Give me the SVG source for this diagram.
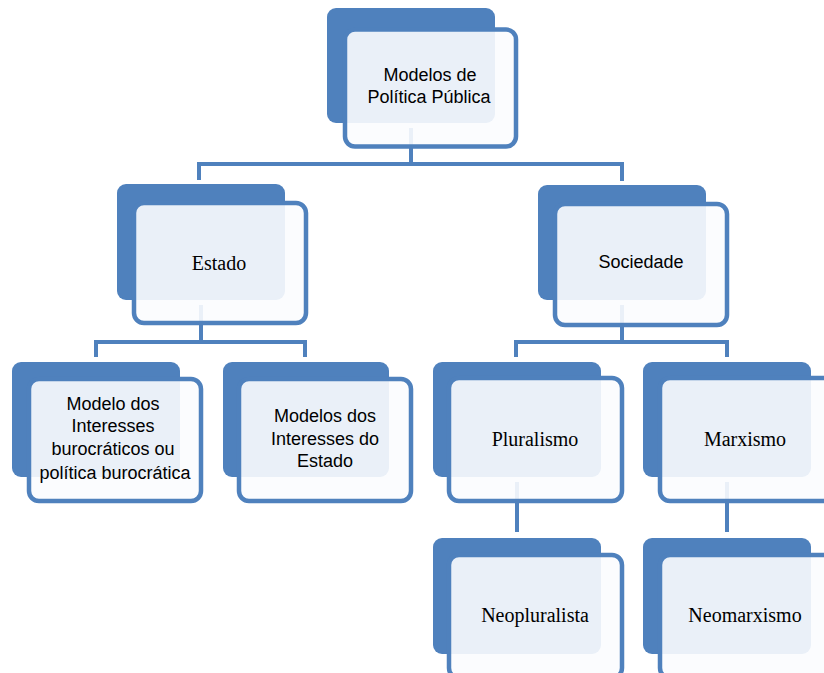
<svg xmlns="http://www.w3.org/2000/svg" width="824" height="673" viewBox="0 0 824 673">
<style>
.back{fill:#4F81BD}
.front{fill:#FBFCFE;fill-opacity:0.9;stroke:#4F81BD;stroke-width:4.5}
.conn{stroke:#4F81BD;stroke-width:4;fill:none;stroke-linejoin:miter}
.sans{font-family:"Liberation Sans",Arial,sans-serif;font-size:18px;fill:#000;text-anchor:middle}
.serif{font-family:"Liberation Serif","Times New Roman",serif;font-size:20px;fill:#000;text-anchor:middle}
</style>
<rect width="824" height="673" fill="#FFFFFF"/>
<g id="connectors">
<path class="conn" d="M411,128 V164 M199,180 V164 H622 V181"/>
<path class="conn" d="M201,305 V342 M96,357 V342 H305 V357"/>
<path class="conn" d="M622,305 V342 M516,357 V342 H727 V357"/>
<path class="conn" d="M517,482 V532 M727,482 V532"/>
</g>
<g id="n-top">
<rect class="back" x="327" y="8" width="168" height="115" rx="9"/>
<rect class="front" x="345" y="29.5" width="171" height="117" rx="10"/>
<text class="sans" x="430" y="81">Modelos de</text>
<text class="sans" x="429" y="103">Política Pública</text>
</g>
<g id="n-estado">
<rect class="back" x="117" y="184" width="168" height="116" rx="9"/>
<rect class="front" x="134" y="203" width="172" height="120" rx="10"/>
<text class="serif" x="219" y="270">Estado</text>
</g>
<g id="n-sociedade">
<rect class="back" x="538" y="185" width="168" height="115" rx="9"/>
<rect class="front" x="555" y="204" width="172" height="121" rx="10"/>
<text class="sans" x="641" y="268">Sociedade</text>
</g>
<g id="n-burocratico">
<rect class="back" x="12" y="362" width="168" height="115" rx="9"/>
<rect class="front" x="29" y="379" width="172" height="122" rx="10"/>
<text class="sans" x="113" y="410">Modelo dos</text>
<text class="sans" x="113" y="432">Interesses</text>
<text class="sans" x="113" y="455">burocráticos ou</text>
<text class="sans" x="115" y="479">política burocrática</text>
</g>
<g id="n-estado-interesses">
<rect class="back" x="223" y="362" width="166" height="115" rx="9"/>
<rect class="front" x="239" y="379" width="172" height="122" rx="10"/>
<text class="sans" x="325" y="422">Modelos dos</text>
<text class="sans" x="325" y="445">Interesses do</text>
<text class="sans" x="325" y="467">Estado</text>
</g>
<g id="n-pluralismo">
<rect class="back" x="433" y="362" width="168" height="115" rx="9"/>
<rect class="front" x="449" y="378" width="173" height="123" rx="10"/>
<text class="serif" x="535" y="446">Pluralismo</text>
</g>
<g id="n-marxismo">
<rect class="back" x="643" y="362" width="168" height="115" rx="9"/>
<rect class="front" x="660" y="378" width="173" height="123" rx="10"/>
<text class="serif" x="745" y="446">Marxismo</text>
</g>
<g id="n-neopluralista">
<rect class="back" x="433" y="538" width="168" height="116" rx="9"/>
<rect class="front" x="449" y="555" width="173" height="123" rx="10"/>
<text class="serif" x="535" y="622">Neopluralista</text>
</g>
<g id="n-neomarxismo">
<rect class="back" x="643" y="538" width="168" height="116" rx="9"/>
<rect class="front" x="660" y="555" width="173" height="123" rx="10"/>
<text class="serif" x="745" y="622">Neomarxismo</text>
</g>
</svg>
